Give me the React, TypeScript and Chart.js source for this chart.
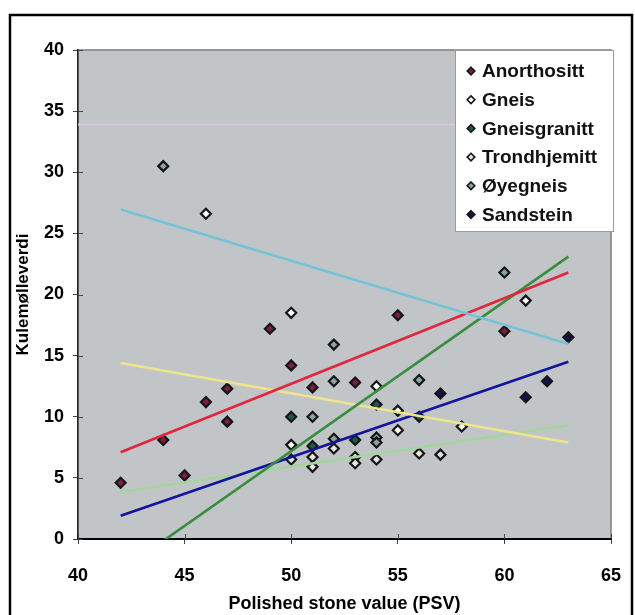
import React, { useEffect, useRef } from 'react';
import { Chart, registerables } from 'chart.js';
Chart.register(...registerables);

const FONT = "'Liberation Sans', Arial, sans-serif";

// Scatter series (PSV, Kulemølleverdi)
const anorthosittX = [42, 44, 45, 46, 47, 47, 49, 50, 51, 53, 55, 60];
const anorthosittY = [4.6, 8.1, 5.2, 11.2, 12.3, 9.6, 17.2, 14.2, 12.4, 12.8, 18.3, 17.0];
const gneisX = [46, 50, 50, 54, 55, 55, 58, 61];
const gneisY = [26.6, 18.5, 7.7, 12.5, 10.5, 8.9, 9.2, 19.5];
const gneisgranittX = [50, 51, 53, 54, 56];
const gneisgranittY = [10.0, 7.6, 8.1, 11.0, 10.0];
const trondhjemittX = [50, 51, 51, 52, 53, 53, 54, 56, 57];
const trondhjemittY = [6.5, 6.7, 5.9, 7.4, 6.7, 6.2, 6.5, 7.0, 6.9];
const oyegneisX = [44, 51, 52, 52, 52, 54, 54, 56, 60];
const oyegneisY = [30.5, 10.0, 15.9, 12.9, 8.2, 8.3, 7.9, 13.0, 21.8];
const sandsteinX = [57, 61, 62, 63];
const sandsteinY = [11.9, 11.6, 12.9, 16.5];

// Trend lines
const trendX = [42, 63];
const trendAnorthosittY = [7.1, 21.8];
const trendGneisY = [14.4, 7.9];
const trendGneisgranittY = [-2.6, 23.1];
const trendTrondhjemittY = [3.85, 9.3];
const trendOyegneisY = [26.95, 15.95];
const trendSandsteinY = [1.9, 14.5];
const faintX = [40, 65];
const faintY = [33.9, 33.9];

const xTitle = 'Polished stone value (PSV)';
const yTitle = 'Kulemølleverdi';

const pts = (xs: number[], ys: number[]) => xs.map((x, i) => ({ x, y: ys[i] }));

const scatter = (label: string, xs: number[], ys: number[], fill: string) => ({
  type: 'scatter' as const,
  label,
  data: pts(xs, ys),
  pointStyle: 'rectRot',
  pointRadius: 5,
  pointBackgroundColor: fill,
  pointBorderColor: '#151515',
  pointBorderWidth: 2.2,
  showLine: false,
  order: 1,
  inLegend: true,
});

const trend = (xs: number[], ys: number[], color: string, width = 2.6) => ({
  type: 'line' as const,
  label: '',
  data: pts(xs, ys),
  borderColor: color,
  borderWidth: width,
  pointRadius: 0,
  showLine: true,
  fill: false,
  tension: 0,
  order: 0,
  inLegend: false,
});

const framePlugin = {
  id: 'frame',
  beforeDraw(chart: any) {
    const { ctx, chartArea: a } = chart;
    ctx.save();
    ctx.fillStyle = '#ffffff';
    ctx.fillRect(0, 0, chart.width, chart.height);
    ctx.fillStyle = '#c2c5c8';
    ctx.fillRect(a.left, a.top, a.right - a.left, a.bottom - a.top);
    ctx.strokeStyle = '#7d7d7d';
    ctx.lineWidth = 1.5;
    ctx.strokeRect(a.left, a.top, a.right - a.left, a.bottom - a.top);
    ctx.strokeStyle = '#000000';
    ctx.lineWidth = 2.5;
    ctx.strokeRect(10, 15, 622, 640);
    ctx.restore();
  },
  afterDraw(chart: any) {
    const { ctx, chartArea: a, scales } = chart;
    ctx.save();
    ctx.strokeStyle = '#444';
    ctx.lineWidth = 1;
    scales.x.ticks.forEach((t: any) => {
      const px = Math.round(scales.x.getPixelForValue(t.value)) + 0.5;
      ctx.beginPath();
      ctx.moveTo(px, a.bottom);
      ctx.lineTo(px, a.bottom - 5);
      ctx.stroke();
    });
    scales.y.ticks.forEach((t: any) => {
      const py = Math.round(scales.y.getPixelForValue(t.value)) + 0.5;
      ctx.beginPath();
      ctx.moveTo(a.left, py);
      ctx.lineTo(a.left + 5, py);
      ctx.stroke();
    });
    ctx.restore();
  },
};

const legendPlugin = {
  id: 'insideLegend',
  afterDraw(chart: any) {
    const { ctx, chartArea: a } = chart;
    const items = chart.data.datasets.filter((d: any) => d.inLegend);
    const w = 158;
    const h = 181;
    const left = a.right - w + 2;
    const top = a.top;
    ctx.save();
    ctx.fillStyle = '#ffffff';
    ctx.fillRect(left, top, w, h);
    ctx.strokeStyle = '#9a9a9a';
    ctx.lineWidth = 1;
    ctx.strokeRect(left + 0.5, top + 0.5, w, h);
    ctx.font = `bold 19px ${FONT}`;
    ctx.textBaseline = 'middle';
    ctx.textAlign = 'left';
    items.forEach((d: any, i: number) => {
      const cy = top + 21 + i * 28.7;
      const mx = left + 16;
      const r = 3.8;
      ctx.beginPath();
      ctx.moveTo(mx, cy - r);
      ctx.lineTo(mx + r, cy);
      ctx.lineTo(mx, cy + r);
      ctx.lineTo(mx - r, cy);
      ctx.closePath();
      ctx.fillStyle = d.pointBackgroundColor;
      ctx.fill();
      ctx.strokeStyle = '#151515';
      ctx.lineWidth = 1.6;
      ctx.stroke();
      ctx.fillStyle = '#111111';
      ctx.fillText(d.label, left + 27, cy + 1);
    });
    ctx.restore();
  },
};

export default function App() {
  const ref = useRef<HTMLCanvasElement>(null);
  useEffect(() => {
    if (!ref.current) return;
    const tickFont = { family: FONT, size: 18, weight: 'bold' as const };
    const chart = new Chart(ref.current, {
      type: 'scatter',
      data: {
        datasets: [
          trend(faintX, faintY, 'rgba(214,200,220,0.95)', 2),
          trend(trendX, trendOyegneisY, '#76c2d6'),
          trend(trendX, trendAnorthosittY, '#e2243f'),
          trend(trendX, trendGneisgranittY, '#3a8c3e'),
          trend(trendX, trendGneisY, '#eee48c'),
          trend(trendX, trendSandsteinY, '#12149c'),
          trend(trendX, trendTrondhjemittY, '#a4d59c'),
          scatter('Anorthositt', anorthosittX, anorthosittY, '#7a1f3e'),
          scatter('Gneis', gneisX, gneisY, '#ffffff'),
          scatter('Gneisgranitt', gneisgranittX, gneisgranittY, '#1f5a46'),
          scatter('Trondhjemitt', trondhjemittX, trondhjemittY, '#e4e4e4'),
          scatter('Øyegneis', oyegneisX, oyegneisY, '#8aa4a6'),
          scatter('Sandstein', sandsteinX, sandsteinY, '#12124e'),
        ] as any,
      },
      options: {
        animation: false,
        responsive: false,
        devicePixelRatio: 1,
        layout: { autoPadding: false, padding: { left: 0, right: 24, top: 50, bottom: 0 } },
        plugins: { legend: { display: false }, tooltip: { enabled: false } },
        scales: {
          x: {
            type: 'linear',
            min: 40,
            max: 65,
            ticks: { stepSize: 5, font: tickFont, color: '#000', padding: 21 },
            grid: { drawOnChartArea: false, tickLength: 5, color: '#444' },
            border: { color: '#000', width: 2 },
            title: {
              display: true,
              text: xTitle,
              font: { family: FONT, size: 18, weight: 'bold' },
              color: '#000',
              padding: { top: 0, bottom: 0 },
            },
            afterFit: (s: any) => { s.height = 76; s.paddingLeft = 0; s.paddingRight = 0; },
          },
          y: {
            type: 'linear',
            min: 0,
            max: 40,
            ticks: { stepSize: 5, font: tickFont, color: '#000', padding: 9 },
            grid: { drawOnChartArea: false, tickLength: 5, color: '#444' },
            border: { color: '#222', width: 1.5 },
            title: {
              display: true,
              text: yTitle,
              font: { family: FONT, size: 17, weight: 'bold' },
              color: '#000',
              padding: { top: 13, bottom: 0 },
            },
            afterFit: (s: any) => { s.width = 78; s.paddingTop = 0; s.paddingBottom = 0; },
          },
        },
      } as any,
      plugins: [framePlugin, legendPlugin],
    });
    return () => chart.destroy();
  }, []);
  return (
    <div style={{ position: 'fixed', left: 0, top: 0, width: 635, height: 615, overflow: 'hidden', background: '#fff' }}>
      <canvas ref={ref} width={635} height={615} style={{ display: 'block', width: 635, height: 615 }} />
    </div>
  );
}
